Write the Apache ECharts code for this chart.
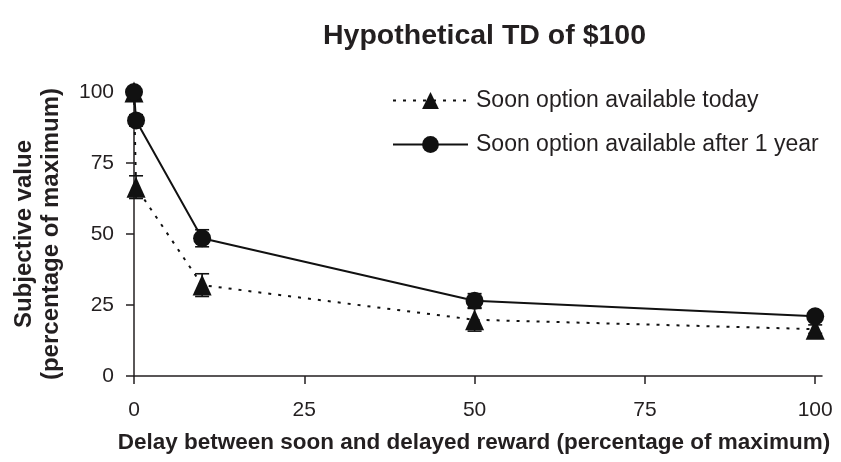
<!DOCTYPE html>
<html>
<head>
<meta charset="utf-8">
<script src="https://cdn.jsdelivr.net/npm/echarts@6/dist/echarts.min.js"></script>
<style>html,body{margin:0;padding:0;background:#fff;}#c{width:841px;height:462px;}</style>
</head>
<body>
<div id="c"></div>
<script>
var titleText = 'Hypothetical TD of $100';
var xAxisTitle = 'Delay between soon and delayed reward (percentage of maximum)';
var yAxisTitle = 'Subjective value\n(percentage of maximum)';
var tickValues = [0, 25, 50, 75, 100];
var seriesNames = ['Soon option available today', 'Soon option available after 1 year'];
var delays = [0, 0.3, 10, 50, 100];
var todayValues = [100, 66.5, 32, 19.8, 16.5];
var todayErrors = [0, 4, 4, 4, 1.5];
var yearValues = [100, 90, 48.5, 26.5, 21];
var yearErrors = [0, 2, 3, 2.5, 1.5];

var FONT = '"Liberation Sans", Arial, Helvetica, sans-serif';

function pairs(xs, ys) { return xs.map(function (x, i) { return [x, ys[i]]; }); }
function errData(xs, ys, es) { return xs.map(function (x, i) { return [x, ys[i], es[i]]; }); }

function errRender(params, api) {
  var x = api.value(0), y = api.value(1), e = api.value(2);
  if (!e) return null;
  var top = api.coord([x, y + e]);
  var bot = api.coord([x, y - e]);
  var hw = 7;
  var st = { stroke: '#111', lineWidth: 1.6 };
  return {
    type: 'group',
    children: [
      { type: 'line', shape: { x1: top[0], y1: top[1], x2: bot[0], y2: bot[1] }, style: st },
      { type: 'line', shape: { x1: top[0] - hw, y1: top[1], x2: top[0] + hw, y2: top[1] }, style: st },
      { type: 'line', shape: { x1: bot[0] - hw, y1: bot[1], x2: bot[0] + hw, y2: bot[1] }, style: st }
    ]
  };
}

var chart = echarts.init(document.getElementById('c'), null, { renderer: 'canvas' });
chart.setOption({
  backgroundColor: '#fff',
  animation: false,
  textStyle: { fontFamily: FONT, color: '#231f20' },
  title: {
    text: titleText,
    left: 318, top: 17,
    textStyle: { fontFamily: FONT, fontSize: 28.5, fontWeight: 'bold', color: '#231f20' }
  },
  legend: {
    orient: 'vertical',
    left: 392, top: 89, padding: 0,
    itemWidth: 75, itemHeight: 21, itemGap: 21,
    textStyle: { fontFamily: FONT, fontSize: 23, color: '#231f20', padding: [0, 0, 0, 3] },
    data: [seriesNames[0], seriesNames[1]]
  },
  grid: { left: 134, right: 19, top: 92, bottom: 86, containLabel: false },
  xAxis: {
    type: 'value', min: 0, max: 101, interval: 25,
    name: xAxisTitle, nameLocation: 'middle', nameGap: 55,
    nameTextStyle: { fontFamily: FONT, fontSize: 22.5, fontWeight: 'bold', color: '#231f20', padding: [0, 8, 0, 0] },
    axisLine: { show: true, lineStyle: { color: '#231f20', width: 1.5 } },
    axisTick: { show: true, inside: false, length: 8, lineStyle: { color: '#231f20', width: 1.5 }, customValues: tickValues },
    axisLabel: { customValues: tickValues, fontSize: 21, color: '#231f20', margin: 24, fontFamily: FONT },
    splitLine: { show: false }
  },
  yAxis: {
    type: 'value', min: 0, max: 100, interval: 25,
    name: yAxisTitle, nameLocation: 'middle', nameGap: 69, nameRotate: 90,
    nameTextStyle: { fontFamily: FONT, fontSize: 24, fontWeight: 'bold', color: '#231f20', lineHeight: 27 },
    axisLine: { show: true, lineStyle: { color: '#231f20', width: 1.5 } },
    axisTick: { show: true, inside: false, length: 8, lineStyle: { color: '#231f20', width: 1.5 } },
    axisLabel: { fontSize: 21, color: '#231f20', margin: 20, fontFamily: FONT },
    splitLine: { show: false }
  },
  series: [
    {
      type: 'custom', name: 'errToday', renderItem: errRender, z: 1,
      data: errData(delays, todayValues, todayErrors), silent: true
    },
    {
      type: 'custom', name: 'errYear', renderItem: errRender, z: 1,
      data: errData(delays, yearValues, yearErrors), silent: true
    },
    {
      type: 'line', name: seriesNames[0], z: 2,
      data: pairs(delays, todayValues),
      symbol: 'triangle', symbolSize: [19, 21],
      itemStyle: { color: '#111', borderWidth: 0 },
      lineStyle: { color: '#111', width: 2, type: [3, 7] }
    },
    {
      type: 'line', name: seriesNames[1], z: 3,
      data: pairs(delays, yearValues),
      symbol: 'circle', symbolSize: 18,
      itemStyle: { color: '#111', borderWidth: 0 },
      lineStyle: { color: '#111', width: 2 }
    }
  ]
});
</script>
</body>
</html>
